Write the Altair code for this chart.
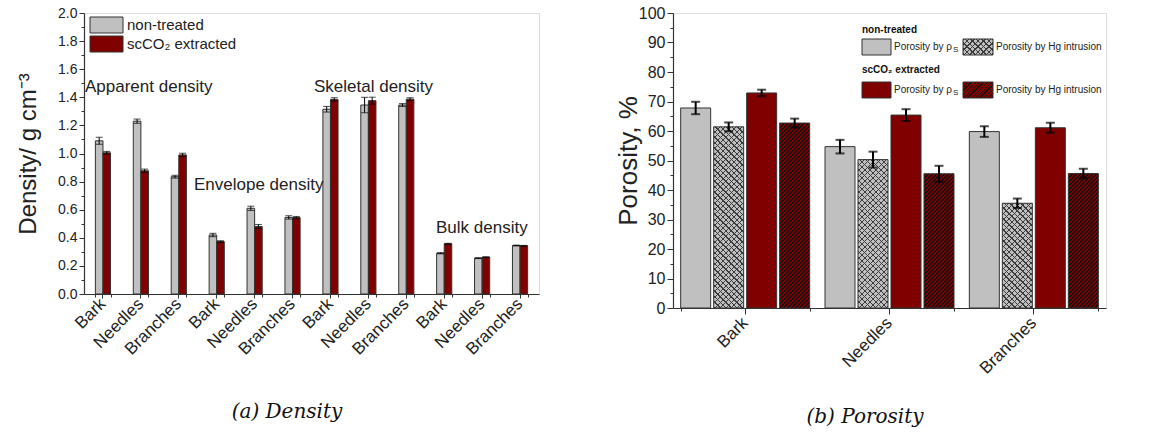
import altair as alt
import pandas as pd

# ---------------- data: panel (a) density ----------------
dens_groups = ["Apparent", "Envelope", "Skeletal", "Bulk"]
samples = ["Bark", "Needles", "Branches"]
treatments = ["non-treated", "scCO2 extracted"]

dens_nontreated = [1.09, 1.23, 0.835, 0.42, 0.61, 0.545, 1.315, 1.345, 1.345, 0.29, 0.255, 0.345]
dens_nontreated_err = [0.025, 0.015, 0.01, 0.012, 0.015, 0.012, 0.02, 0.055, 0.01, 0.004, 0.003, 0.003]
dens_extracted = [1.005, 0.877, 0.99, 0.373, 0.48, 0.544, 1.385, 1.376, 1.387, 0.357, 0.262, 0.343]
dens_extracted_err = [0.01, 0.012, 0.012, 0.006, 0.015, 0.008, 0.012, 0.025, 0.01, 0.004, 0.003, 0.003]
dens_ticks = [round(i * 0.1, 1) for i in range(21)]

# ---------------- data: panel (b) porosity ----------------
por_series = ["nt_rho", "nt_hg", "ex_rho", "ex_hg"]
por_bark = [67.8, 61.4, 72.9, 62.7]
por_bark_err = [2.1, 1.5, 1.1, 1.5]
por_needles = [54.7, 50.3, 65.4, 45.5]
por_needles_err = [2.3, 2.7, 2.0, 2.7]
por_branches = [59.8, 35.5, 61.1, 45.6]
por_branches_err = [1.8, 1.6, 1.7, 1.6]
por_ticks = list(range(0, 101, 5))

GRAY = "#c0c0c0"
RED = "#800000"
EDGE = "#333333"
FONT = "Liberation Sans"
one = pd.DataFrame({"a": [0]})


def txt(t, x, y, size, align="left", weight="normal", style="normal", font=FONT, color="#222"):
    return alt.Chart(one).mark_text(text=t, fontSize=size, align=align, baseline="middle",
                                    fontWeight=weight, fontStyle=style, font=font, color=color).encode(
        x=alt.value(x), y=alt.value(y))


def box(x, x2, y, y2, fill, stroke=None):
    kw = {"fill": fill}
    if stroke:
        kw.update(stroke=stroke, strokeWidth=1)
    return alt.Chart(one).mark_rect(**kw).encode(
        x=alt.value(x), x2=alt.value(x2), y=alt.value(y), y2=alt.value(y2))


def stripes(w, h, period, lw, color, bg, direction):
    S = w + h
    a = w * (w + h) / (w * w + h * h)
    if direction == "/":
        x1, y1, x2, y2 = 0, 0, a, a * h / w
    else:
        x1, y1, x2, y2 = 1, 0, 1 - a, a * h / w
    stops = []
    s = 0.0
    while s < S:
        t0 = s / S
        t1 = min((s + lw) / S, 1.0)
        stops += [{"offset": round(t0, 5), "color": color}, {"offset": round(t1, 5), "color": color},
                  {"offset": round(t1, 5), "color": bg}]
        s += period
        stops.append({"offset": round(min(s / S, 1.0), 5), "color": bg})
    return {"gradient": "linear", "x1": x1, "y1": y1, "x2": x2, "y2": y2, "stops": stops}

CLEAR = "rgba(0,0,0,0)"

# ---------------- panel (a) ----------------
keys = [f"{g}|{s}" for g in dens_groups for s in samples]
rows = []
for i, k in enumerate(keys):
    for t, vals, errs in [(treatments[0], dens_nontreated, dens_nontreated_err),
                          (treatments[1], dens_extracted, dens_extracted_err)]:
        rows.append({"key": k, "treatment": t, "value": vals[i],
                     "lo": vals[i] - errs[i], "hi": vals[i] + errs[i]})
dens_df = pd.DataFrame(rows)

W1, H1 = 455, 281
xs_d = alt.Scale(type="band", domain=keys, paddingInner=0.6, paddingOuter=0.3)
xo_d = alt.Scale(type="band", domain=treatments, paddingInner=0, paddingOuter=0)
ys_d = alt.Scale(domain=[0, 2], nice=False)
yaxis_d = alt.Axis(
    values=dens_ticks,
    labelExpr="round(datum.value*10) % 2 == 0 ? format(datum.value, '.1f') : ''",
    tickSize={"condition": {"test": "round(datum.value*10) % 2 == 0", "value": 5}, "value": 3},
    labelOverlap=False, labelFontSize=14, labelPadding=2, labelColor="#222",
    title="Density/ g cm⁻³", titleFontSize=24, titleFontWeight="normal",
    titleX=-49, titleBaseline="alphabetic", titleColor="#222",
    grid=False, domainColor=EDGE, tickColor=EDGE, domainWidth=1.2,
)
xaxis_d = alt.Axis(
    orient="bottom",
    labelExpr="split(datum.value, '|')[1]", labelAngle=-45, labelAlign="right",
    labelBaseline="middle", labelFontSize=17, labelPadding=3, labelColor="#222",
    labelOverlap=False, tickSize=4, tickColor=EDGE, domainColor=EDGE, domainWidth=1.2,
    title=None, grid=False,
)

def yd(field):
    return alt.Y(f"{field}:Q", scale=ys_d, axis=yaxis_d, title="Density/ g cm⁻³")

def xd():
    return alt.X("key:N", scale=xs_d, axis=xaxis_d, title=None, sort=keys)

def xod():
    return alt.XOffset("treatment:N", scale=xo_d, sort=treatments)

base_d = alt.Chart(dens_df)
bars_d = base_d.mark_bar(stroke=EDGE, strokeWidth=1).encode(
    x=xd(), xOffset=xod(), y=yd("value"),
    fill=alt.Fill("treatment:N", scale=alt.Scale(domain=treatments, range=[GRAY, RED]), legend=None),
)
err_d = base_d.mark_rule(color="black", strokeWidth=1).encode(
    x=xd(), xOffset=xod(), y=yd("lo"), y2="hi")
caphi_d = base_d.mark_tick(color="black", size=7, thickness=1).encode(x=xd(), xOffset=xod(), y=yd("hi"))
caplo_d = base_d.mark_tick(color="black", size=7, thickness=1).encode(x=xd(), xOffset=xod(), y=yd("lo"))
main_d = alt.layer(bars_d, err_d, caphi_d, caplo_d)
minor_d = alt.Chart(pd.DataFrame({"key": keys})).mark_bar(opacity=0).encode(
    x=alt.X("key:N", scale=xs_d, sort=keys, title=None,
            axis=alt.Axis(orient="bottom", tickBand="extent", labels=False, domain=False,
                          tickSize=3, tickColor=EDGE, title=None, grid=False)))

deco_d = [
    box(6, 39, 4, 20, GRAY, EDGE), box(6, 39, 23, 39, RED, EDGE),
    txt("non-treated", 43, 12, 15), txt("scCO₂ extracted", 43, 31, 15),
    txt("Apparent density", 1, 74, 17), txt("Envelope density", 110, 172, 17),
    txt("Skeletal density", 230, 74, 17), txt("Bulk density", 352, 215, 17),
    txt("(a) Density", 203, 399, 20, align="center", style="italic", font="DejaVu Serif", color="#111"),
]

left = alt.layer(main_d, minor_d, *deco_d).resolve_axis(x="independent").properties(width=W1, height=H1)

# ---------------- panel (b) ----------------
W2, H2 = 433, 295
rows = []
for s, vals, errs in [("Bark", por_bark, por_bark_err), ("Needles", por_needles, por_needles_err),
                      ("Branches", por_branches, por_branches_err)]:
    for ser, v, e in zip(por_series, vals, errs):
        rows.append({"sample": s, "series": ser, "value": v, "lo": v - e, "hi": v + e})
por_df = pd.DataFrame(rows)

PI2 = 1 - 129 / (W2 / 3)
xs_p = alt.Scale(type="band", domain=samples, paddingInner=PI2, paddingOuter=PI2 / 2)
xo_p = alt.Scale(type="band", domain=por_series, paddingInner=0.0909, paddingOuter=0)
ys_p = alt.Scale(domain=[0, 100], nice=False)
yaxis_p = alt.Axis(
    values=por_ticks,
    labelExpr="datum.value % 10 == 0 ? format(datum.value, 'd') : ''",
    tickSize={"condition": {"test": "datum.value % 10 == 0", "value": 6}, "value": 3},
    labelOverlap=False, labelFontSize=16, labelPadding=2, labelColor="#222",
    title="Porosity, %", titleFontSize=26, titleFontWeight="normal",
    titleX=-37, titleBaseline="alphabetic", titleColor="#222",
    grid=False, domainColor=EDGE, tickColor=EDGE, domainWidth=1.2,
)
xaxis_p = alt.Axis(
    orient="bottom",
    labelAngle=-45, labelAlign="right", labelBaseline="middle", labelFontSize=17,
    labelPadding=6, labelColor="#222", labelOverlap=False, tickSize=6, tickColor=EDGE,
    domainColor=EDGE, domainWidth=1.2, title=None, grid=False,
)

def yp(field):
    return alt.Y(f"{field}:Q", scale=ys_p, axis=yaxis_p, title="Porosity, %")

def xp():
    return alt.X("sample:N", scale=xs_p, axis=xaxis_p, title=None, sort=samples)

def xop():
    return alt.XOffset("series:N", scale=xo_p, sort=por_series)

BAR_W = 30
base_p = alt.Chart(por_df)
bars_p = base_p.mark_bar().encode(
    x=xp(), xOffset=xop(), y=yp("value"),
    fill=alt.Fill("series:N", scale=alt.Scale(domain=por_series, range=[GRAY, GRAY, RED, RED]), legend=None),
)
pattern_layers = []
for _, r in por_df.iterrows():
    h = r["value"] / 100 * H2
    sel = base_p.transform_filter(
        (alt.datum.sample == r["sample"]) & (alt.datum.series == r["series"]))
    if r["series"] == "nt_hg":
        for d in ["/", "\\"]:
            pattern_layers.append(sel.mark_bar(
                fill=stripes(BAR_W, h, 5.5, 1.3, "#3a3a3a", CLEAR, d)).encode(
                x=xp(), xOffset=xop(), y=yp("value")))
    elif r["series"] == "ex_hg":
        pattern_layers.append(sel.mark_bar(
            fill=stripes(BAR_W, h, 4.0, 1.6, "#111111", CLEAR, "/")).encode(
            x=xp(), xOffset=xop(), y=yp("value")))
outline_p = base_p.mark_bar(fillOpacity=0, stroke=EDGE, strokeWidth=1).encode(
    x=xp(), xOffset=xop(), y=yp("value"))
err_p = base_p.mark_rule(color="black", strokeWidth=2).encode(
    x=xp(), xOffset=xop(), y=yp("lo"), y2="hi")
caphi_p = base_p.mark_tick(color="black", size=9, thickness=2).encode(x=xp(), xOffset=xop(), y=yp("hi"))
caplo_p = base_p.mark_tick(color="black", size=9, thickness=2).encode(x=xp(), xOffset=xop(), y=yp("lo"))
main_p = alt.layer(bars_p, *pattern_layers, outline_p, err_p, caphi_p, caplo_p)
minor_p = alt.Chart(pd.DataFrame({"sample": samples})).mark_bar(opacity=0).encode(
    x=alt.X("sample:N", scale=xs_p, sort=samples, title=None,
            axis=alt.Axis(orient="bottom", tickBand="extent", labels=False, domain=False,
                          tickSize=3, tickColor=EDGE, title=None, grid=False)))

LX = 189
SX = LX + 101
deco_p = [
    txt("non-treated", LX, 17, 10, weight="bold", color="#111"),
    txt("scCO₂ extracted", LX, 57, 10, weight="bold", color="#111"),
    box(LX, LX + 29, 26, 42, GRAY, EDGE), box(LX, LX + 29, 69, 85, RED, EDGE),
    box(SX, SX + 30, 26, 42, GRAY),
    box(SX, SX + 30, 26, 42, stripes(30, 16, 5.5, 1.3, "#3a3a3a", CLEAR, "/")),
    box(SX, SX + 30, 26, 42, stripes(30, 16, 5.5, 1.3, "#3a3a3a", CLEAR, "\\")),
    box(SX, SX + 30, 26, 42, CLEAR, EDGE),
    box(SX, SX + 30, 69, 85, RED),
    box(SX, SX + 30, 69, 85, stripes(30, 16, 4.0, 1.6, "#111111", CLEAR, "/")),
    box(SX, SX + 30, 69, 85, CLEAR, EDGE),
    txt("Porosity by ρ", LX + 32, 34, 10), txt("Porosity by ρ", LX + 32, 77, 10),
    txt("S", LX + 91, 37, 8), txt("S", LX + 91, 80, 8),
    txt("Porosity by Hg intrusion", SX + 33, 34, 10), txt("Porosity by Hg intrusion", SX + 33, 77, 10),
    txt("(b) Porosity", 192, 404, 20, align="center", style="italic", font="DejaVu Serif", color="#111"),
]

right = alt.layer(main_p, minor_p, *deco_p).resolve_axis(x="independent").properties(width=W2, height=H2)

chart = alt.hconcat(left, right, spacing=74).resolve_scale(
    xOffset="independent", fill="independent"
).properties(
    padding={"left": 15, "top": 4, "right": 0, "bottom": 0}
).configure_view(stroke=EDGE, strokeWidth=1.2).configure(font=FONT)

chart.save("out.html", embed_options={"renderer": "svg", "actions": False})
